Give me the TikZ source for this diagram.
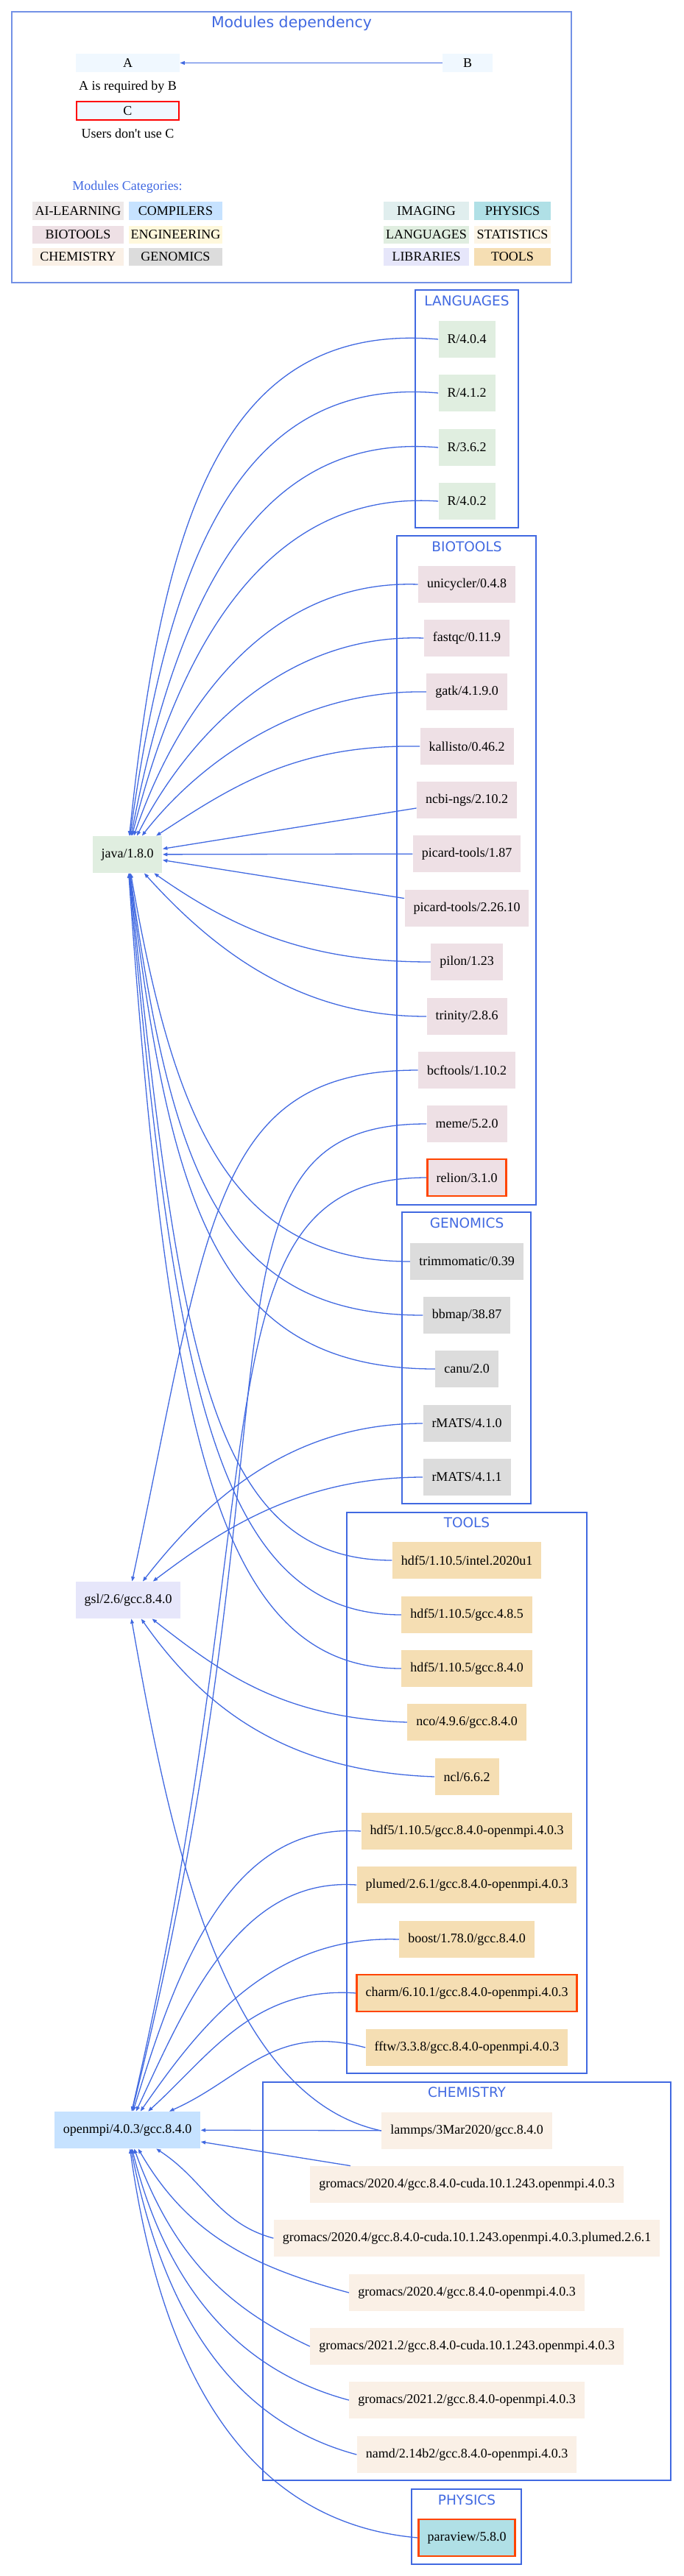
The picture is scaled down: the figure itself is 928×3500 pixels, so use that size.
\documentclass[tikz,border=0pt]{standalone}
\usepackage{fontspec}
\setmainfont{Liberation Serif}
\newfontfamily\clusterfont{DejaVu Sans}
\usetikzlibrary{arrows.meta,positioning}
\definecolor{edgeblue}{HTML}{4169E1}
\definecolor{frameblue}{HTML}{7391E6}
\definecolor{unusedred}{HTML}{FF4500}
\definecolor{legfill}{HTML}{F0F8FF}
\definecolor{catai}{HTML}{EEE9E9}
\definecolor{catcomp}{HTML}{C6E2FF}
\definecolor{catbio}{HTML}{EEE0E5}
\definecolor{cateng}{HTML}{FFF8DC}
\definecolor{catchem}{HTML}{FAF0E6}
\definecolor{catgen}{HTML}{DCDCDC}
\definecolor{catimg}{HTML}{E0EEEE}
\definecolor{catphys}{HTML}{B0E0E6}
\definecolor{catlang}{HTML}{E0EEE0}
\definecolor{catstat}{HTML}{FDF5E6}
\definecolor{catlib}{HTML}{E6E6FA}
\definecolor{cattool}{HTML}{F5DEB3}

\begin{document}
\begin{tikzpicture}[x=0.5pt, y=-0.5pt,
    modbox/.style={minimum height=25pt, inner xsep=6pt, inner ysep=0pt, font=\fontsize{9}{10.8}\selectfont},
    langbox/.style={modbox, fill=catlang},
    biobox/.style={modbox, fill=catbio},
    genbox/.style={modbox, fill=catgen},
    toolbox/.style={modbox, fill=cattool},
    chembox/.style={modbox, fill=catchem},
    physbox/.style={modbox, fill=catphys},
    libbox/.style={modbox, fill=catlib},
    compbox/.style={modbox, fill=catcomp},
    unusedbox/.style={draw=unusedred, line width=1.1pt},
    legbox/.style={minimum width=70.5pt, minimum height=12.5pt, inner sep=0pt, fill=legfill, font=\fontsize{9}{10.8}\selectfont},
    catbox/.style={minimum height=12pt, inner sep=0pt, font=\fontsize{9}{10.8}\selectfont},
    plaintext/.style={anchor=base, inner sep=0pt, font=\fontsize{9}{10.8}\selectfont},
    clusterbox/.style={draw=edgeblue, line width=0.6pt},
    clusterlabel/.style={anchor=base, inner sep=0pt, text=edgeblue, font=\clusterfont\fontsize{9.25}{11}\selectfont},
    dep/.style={draw=edgeblue, line width=0.65pt, -{Triangle[length=3.2pt,width=2.4pt]}}
]
\useasboundingbox (0,0) rectangle (928,3500);

\draw[draw=frameblue, line width=1pt] (16,16) rectangle (776,384);
\node[clusterlabel, font=\clusterfont\fontsize{10.25}{12}\selectfont] (legtitle) at (396,38) {Modules dependency};
\node[legbox] (keya) at (173.5,85.5) {A};
\node[legbox, minimum width=34pt] (keyb) at (635,85.5) {B};
\draw[dep] (keyb) -- (keya);
\node[plaintext] (keyreq) at (173.5,122.5) {A is required by B};
\node[legbox, draw=red, line width=1.1pt, minimum width=69.5pt] (keyc) at (173.5,150.5) {C};
\node[plaintext] (keyunused) at (173.5,188) {Users don\textquotesingle t use C};
\node[plaintext, text=edgeblue] (cattitle) at (173,259) {Modules Categories:};
\node[catbox, fill=catai, minimum width=62pt] (catai) at (106,286.5) {AI-LEARNING};
\node[catbox, fill=catcomp, minimum width=63.5pt] (catcomp) at (238.5,286.5) {COMPILERS};
\node[catbox, fill=catbio, minimum width=62pt] (catbio) at (106,319) {BIOTOOLS};
\node[catbox, fill=cateng, minimum width=63.5pt] (cateng) at (238.5,319) {ENGINEERING};
\node[catbox, fill=catchem, minimum width=62pt] (catchem) at (106,349) {CHEMISTRY};
\node[catbox, fill=catgen, minimum width=63.5pt] (catgen) at (238.5,349) {GENOMICS};
\node[catbox, fill=catimg, minimum width=58pt] (catimg) at (579,286.5) {IMAGING};
\node[catbox, fill=catphys, minimum width=52pt] (catphys) at (696,286.5) {PHYSICS};
\node[catbox, fill=catlang, minimum width=58pt] (catlang) at (579,319) {LANGUAGES};
\node[catbox, fill=catstat, minimum width=52pt] (catstat) at (696,319) {STATISTICS};
\node[catbox, fill=catlib, minimum width=58pt] (catlib) at (579,349) {LIBRARIES};
\node[catbox, fill=cattool, minimum width=52pt] (cattool) at (696,349) {TOOLS};

\draw[clusterbox] (564,394) rectangle (704,717);
\node[clusterlabel] (langlabel) at (634,415) {LANGUAGES};
\draw[clusterbox] (539,728) rectangle (728,1637);
\node[clusterlabel] (biolabel) at (634,749) {BIOTOOLS};
\draw[clusterbox] (546,1647) rectangle (721,2043);
\node[clusterlabel] (genlabel) at (634,1668) {GENOMICS};
\draw[clusterbox] (471,2055) rectangle (797,2817);
\node[clusterlabel] (toollabel) at (634,2075) {TOOLS};
\draw[clusterbox] (357,2829) rectangle (911,3370);
\node[clusterlabel] (chemlabel) at (634,2849) {CHEMISTRY};
\draw[clusterbox] (559,3382) rectangle (708,3484);
\node[clusterlabel] (physlabel) at (634,3403) {PHYSICS};

\node[langbox] (java) at (173,1161) {java/1.8.0};
\node[libbox] (gsl) at (174,2174) {gsl/2.6/gcc.8.4.0};
\node[compbox] (openmpi) at (173,2894) {openmpi/4.0.3/gcc.8.4.0};

\node[langbox] (r404) at (634,461) {R/4.0.4};
\node[langbox] (r412) at (634,534) {R/4.1.2};
\node[langbox] (r362) at (634,608) {R/3.6.2};
\node[langbox] (r402) at (634,681) {R/4.0.2};

\node[biobox] (unicycler) at (634,794) {unicycler/0.4.8};
\node[biobox] (fastqc) at (634,867) {fastqc/0.11.9};
\node[biobox] (gatk) at (634,940) {gatk/4.1.9.0};
\node[biobox] (kallisto) at (634,1014) {kallisto/0.46.2};
\node[biobox] (ncbings) at (634,1087) {ncbi-ngs/2.10.2};
\node[biobox] (picardold) at (634,1160) {picard-tools/1.87};
\node[biobox] (picardnew) at (634,1234) {picard-tools/2.26.10};
\node[biobox] (pilon) at (634,1307) {pilon/1.23};
\node[biobox] (trinity) at (634,1381) {trinity/2.8.6};
\node[biobox] (bcftools) at (634,1454) {bcftools/1.10.2};
\node[biobox] (meme) at (634,1527) {meme/5.2.0};
\node[biobox, unusedbox] (relion) at (634,1600) {relion/3.1.0};

\node[genbox] (trimmomatic) at (634,1714) {trimmomatic/0.39};
\node[genbox] (bbmap) at (634,1787) {bbmap/38.87};
\node[genbox] (canu) at (634,1860) {canu/2.0};
\node[genbox] (rmatsold) at (634,1934) {rMATS/4.1.0};
\node[genbox] (rmatsnew) at (634,2007) {rMATS/4.1.1};

\node[toolbox] (hdfintel) at (634,2120) {hdf5/1.10.5/intel.2020u1};
\node[toolbox] (hdfgccold) at (634,2194) {hdf5/1.10.5/gcc.4.8.5};
\node[toolbox] (hdfgcc) at (634,2267) {hdf5/1.10.5/gcc.8.4.0};
\node[toolbox] (nco) at (634,2340) {nco/4.9.6/gcc.8.4.0};
\node[toolbox] (ncl) at (634,2414) {ncl/6.6.2};
\node[toolbox] (hdfmpi) at (634,2488) {hdf5/1.10.5/gcc.8.4.0-openmpi.4.0.3};
\node[toolbox] (plumed) at (634,2561) {plumed/2.6.1/gcc.8.4.0-openmpi.4.0.3};
\node[toolbox] (boost) at (634,2635) {boost/1.78.0/gcc.8.4.0};
\node[toolbox, unusedbox] (charm) at (634,2708) {charm/6.10.1/gcc.8.4.0-openmpi.4.0.3};
\node[toolbox] (fftw) at (634,2782) {fftw/3.3.8/gcc.8.4.0-openmpi.4.0.3};

\node[chembox] (lammps) at (634,2895) {lammps/3Mar2020/gcc.8.4.0};
\node[chembox] (gromacsa) at (634,2968) {gromacs/2020.4/gcc.8.4.0-cuda.10.1.243.openmpi.4.0.3};
\node[chembox] (gromacsb) at (634,3041) {gromacs/2020.4/gcc.8.4.0-cuda.10.1.243.openmpi.4.0.3.plumed.2.6.1};
\node[chembox] (gromacsc) at (634,3115) {gromacs/2020.4/gcc.8.4.0-openmpi.4.0.3};
\node[chembox] (gromacsd) at (634,3188) {gromacs/2021.2/gcc.8.4.0-cuda.10.1.243.openmpi.4.0.3};
\node[chembox] (gromacse) at (634,3261) {gromacs/2021.2/gcc.8.4.0-openmpi.4.0.3};
\node[chembox] (namd) at (634,3335) {namd/2.14b2/gcc.8.4.0-openmpi.4.0.3};

\node[physbox, unusedbox] (paraview) at (634,3448) {paraview/5.8.0};

\draw[dep] (r404.west) to[out=175,in=84,out distance=150pt,in distance=210pt] (java);
\draw[dep] (r412.west) to[out=175,in=82,out distance=140pt,in distance=180pt] (java);
\draw[dep] (r362.west) to[out=175,in=79,out distance=130pt,in distance=150pt] (java);
\draw[dep] (r402.west) to[out=176,in=76,out distance=120pt,in distance=125pt] (java);
\draw[dep] (unicycler.west) to[out=178,in=71,out distance=100pt,in distance=95pt] (java);
\draw[dep] (fastqc.west) to[out=178,in=63,out distance=95pt,in distance=75pt] (java);
\draw[dep] (gatk.west) to[out=179,in=52,out distance=85pt,in distance=65pt] (java);
\draw[dep] (kallisto.west) to[out=179,in=33,out distance=85pt,in distance=60pt] (java);
\draw[dep] (ncbings) -- (java);
\draw[dep] (picardold) -- (java);
\draw[dep] (picardnew) -- (java);
\draw[dep] (pilon.west) to[out=180,in=-35,out distance=80pt,in distance=70pt] (java);
\draw[dep] (trinity.west) to[out=180,in=-48,out distance=80pt,in distance=80pt] (java);
\draw[dep] (trimmomatic.west) to[out=180,in=-80,out distance=125pt,in distance=165pt] (java);
\draw[dep] (bbmap.west) to[out=180,in=-82,out distance=140pt,in distance=200pt] (java);
\draw[dep] (canu.west) to[out=180,in=-83,out distance=150pt,in distance=225pt] (java);
\draw[dep] (hdfintel.west) to[out=180,in=-84,out distance=125pt,in distance=325pt] (java);
\draw[dep] (hdfgccold.west) to[out=180,in=-85,out distance=125pt,in distance=350pt] (java);
\draw[dep] (hdfgcc.west) to[out=180,in=-86,out distance=125pt,in distance=380pt] (java);

\draw[dep] (bcftools.west) to[out=180,in=78,out distance=140pt,in distance=250pt] (gsl);
\draw[dep] (rmatsold.west) to[out=180,in=52,out distance=90pt,in distance=70pt] (gsl);
\draw[dep] (rmatsnew.west) to[out=180,in=37,out distance=85pt,in distance=55pt] (gsl);
\draw[dep] (nco.west) to[out=178,in=-38,out distance=85pt,in distance=60pt] (gsl);
\draw[dep] (ncl.west) to[out=178,in=-55,out distance=100pt,in distance=75pt] (gsl);
\draw[dep] (lammps.west) to[out=168,in=-80,out distance=110pt,in distance=150pt] (gsl);

\draw[dep] (meme.west) to[out=180,in=76,out distance=168pt,in distance=500pt] (openmpi);
\draw[dep] (relion.west) to[out=180,in=77,out distance=160pt,in distance=450pt] (openmpi);
\draw[dep] (hdfmpi.west) to[out=176,in=73,out distance=90pt,in distance=100pt] (openmpi);
\draw[dep] (plumed.west) to[out=176,in=65,out distance=80pt,in distance=80pt] (openmpi);
\draw[dep] (boost.west) to[out=178,in=55,out distance=90pt,in distance=65pt] (openmpi);
\draw[dep] (charm.west) to[out=176,in=42,out distance=70pt,in distance=55pt] (openmpi);
\draw[dep] (fftw.west) to[out=165,in=24,out distance=65pt,in distance=55pt] (openmpi);
\draw[dep] (lammps) -- (openmpi);
\draw[dep] (gromacsa) -- (openmpi);
\draw[dep] (gromacsb.west) to[out=165,in=-33] (openmpi);
\draw[dep] (gromacsc.west) to[out=165,in=-60] (openmpi);
\draw[dep] (gromacsd.west) to[out=155,in=-70,out distance=60pt,in distance=80pt] (openmpi);
\draw[dep] (gromacse.west) to[out=165,in=-76,out distance=75pt,in distance=100pt] (openmpi);
\draw[dep] (namd.west) to[out=165,in=-79,out distance=80pt,in distance=125pt] (openmpi);
\draw[dep] (paraview.west) to[out=175,in=-82,out distance=110pt,in distance=165pt] (openmpi);
\end{tikzpicture}
\end{document}
